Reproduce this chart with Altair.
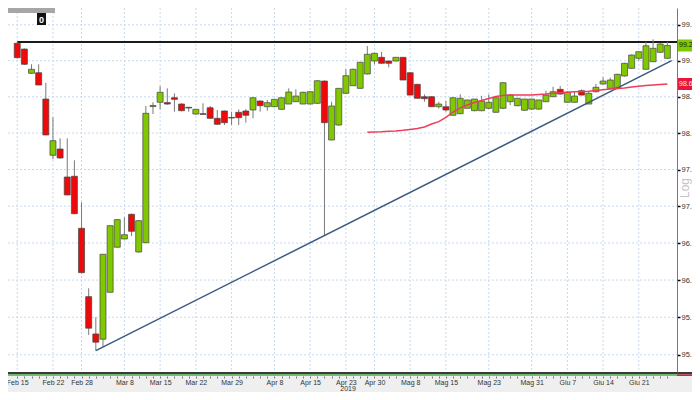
import altair as alt
import pandas as pd

# ---------------- data ----------------
idx = list(range(1, 93))
opens = [99.242, 99.162, 98.825, 98.833, 98.469, 97.695, 97.781, 97.398, 97.408, 96.700,
         95.777, 95.277, 95.207, 95.836, 96.443, 96.555, 96.890, 96.379, 96.505, 98.365,
         98.424, 98.420, 98.487, 98.400, 98.355, 98.262, 98.267, 98.349, 98.203, 98.304,
         98.215, 98.286, 98.304, 98.318, 98.442, 98.363, 98.363, 98.327, 98.400, 98.432,
         98.400, 98.400, 98.410, 98.718, 97.905, 98.111, 98.548, 98.653, 98.617, 98.815,
         98.996, 99.047, 98.996, 98.996, 99.047, 98.833, 98.672, 98.501, 98.501, 98.363,
         98.363, 98.245, 98.267, 98.341, 98.308, 98.308, 98.341, 98.286, 98.341, 98.432,
         98.377, 98.314, 98.330, 98.330, 98.432, 98.501, 98.603, 98.424, 98.424, 98.584,
         98.400, 98.570, 98.677, 98.617, 98.625, 98.788, 98.894, 99.033, 98.881, 98.986,
         99.117, 99.033]
highs = [99.260, 99.170, 98.950, 98.950, 98.695, 98.217, 97.928, 97.928, 97.627, 97.053,
         95.890, 95.501, 96.350, 96.740, 96.820, 96.850, 96.900, 96.810, 98.373, 98.424,
         98.649, 98.617, 98.548, 98.410, 98.358, 98.330, 98.410, 98.373, 98.318, 98.310,
         98.294, 98.327, 98.330, 98.490, 98.450, 98.456, 98.470, 98.490, 98.617, 98.603,
         98.570, 98.575, 98.730, 98.725, 98.432, 98.620, 98.881, 98.890, 98.980, 99.204,
         99.110, 99.121, 99.000, 99.050, 99.050, 98.840, 98.680, 98.534, 98.510, 98.432,
         98.442, 98.490, 98.534, 98.460, 98.470, 98.514, 98.534, 98.490, 98.700, 98.530,
         98.480, 98.470, 98.470, 98.460, 98.584, 98.639, 98.649, 98.580, 98.570, 98.603,
         98.580, 98.677, 98.770, 98.765, 98.820, 98.970, 99.085, 99.130, 99.264, 99.297,
         99.250, 99.264]
lows = [99.030, 98.940, 98.820, 98.660, 97.970, 97.640, 97.650, 97.150, 96.890, 96.090,
        95.264, 95.054, 95.108, 95.830, 96.440, 96.550, 96.595, 96.370, 96.500, 98.262,
        98.327, 98.390, 98.294, 98.300, 98.294, 98.250, 98.255, 98.200, 98.111, 98.111,
        98.111, 98.111, 98.143, 98.203, 98.294, 98.308, 98.360, 98.320, 98.400, 98.430,
        98.400, 98.400, 98.400, 96.602, 97.900, 98.100, 98.540, 98.650, 98.610, 98.810,
        98.950, 98.960, 98.908, 98.990, 98.730, 98.520, 98.475, 98.432, 98.360, 98.338,
        98.294, 98.240, 98.260, 98.340, 98.300, 98.300, 98.330, 98.280, 98.330, 98.386,
        98.370, 98.310, 98.320, 98.320, 98.430, 98.500, 98.530, 98.420, 98.420, 98.520,
        98.400, 98.560, 98.670, 98.610, 98.620, 98.780, 98.890, 99.000, 98.880, 98.980,
        99.110, 99.030]
closes = [99.042, 98.950, 98.881, 98.663, 97.974, 97.895, 97.658, 97.153, 96.898, 96.100,
          95.354, 95.167, 96.348, 96.735, 96.817, 96.613, 96.659, 96.803, 98.272, 98.380,
          98.562, 98.400, 98.465, 98.308, 98.345, 98.327, 98.257, 98.203, 98.121, 98.143,
          98.207, 98.212, 98.245, 98.487, 98.377, 98.419, 98.465, 98.487, 98.566, 98.510,
          98.562, 98.570, 98.722, 98.143, 98.373, 98.617, 98.792, 98.881, 98.978, 99.089,
          99.103, 98.964, 98.964, 99.047, 98.732, 98.524, 98.479, 98.474, 98.363, 98.400,
          98.318, 98.487, 98.479, 98.456, 98.469, 98.442, 98.424, 98.487, 98.695, 98.524,
          98.479, 98.469, 98.469, 98.456, 98.524, 98.570, 98.538, 98.562, 98.510, 98.524,
          98.548, 98.631, 98.718, 98.732, 98.811, 98.964, 99.079, 99.125, 99.208, 99.172,
          99.232, 99.212]

ma_idx = list(range(50, 93))
ma_values = [98.011, 98.015, 98.018, 98.025, 98.029, 98.038, 98.050, 98.063, 98.084, 98.125,
             98.157, 98.217, 98.290, 98.348, 98.387, 98.421, 98.449, 98.476, 98.504, 98.518,
             98.525, 98.525, 98.525, 98.525, 98.532, 98.538, 98.548, 98.557, 98.562, 98.569,
             98.573, 98.577, 98.587, 98.597, 98.608, 98.615, 98.622, 98.636, 98.647, 98.656,
             98.662, 98.670, 98.676]

tick_idx = [1, 6, 10, 16, 21, 26, 31, 37, 42, 47, 51, 56, 61, 67, 73, 78, 83, 88]
tick_labels = ["Feb 15", "Feb 22", "Feb 28", "Mar 8", "Mar 15", "Mar 22", "Mar 29",
               "Apr 8", "Apr 15", "Apr 23", "Apr 30", "Mag 8", "Mag 15", "Mag 23",
               "Mag 31", "Giu 7", "Giu 14", "Giu 21"]
year_label = "2019"
year_idx = 47.3
y_ticks = [95.0, 95.5, 96.0, 96.5, 97.0, 97.5, 98.0, 98.5, 99.0, 99.5]

resistance_level = [99.26]
resistance_start = [1]
trend_idx = [12, 92.6]
trend_price = [95.054, 99.0]
badge_price = [99.2120, 98.6762]
badge_text = ["99.2120", "98.6762"]

# ---------------- layout / style ----------------
W, H = 669, 364
PAD_R, PAD_B = 15, 20
X_DOMAIN = [0.407, 92.647]
Y_DOMAIN = [94.770, 99.7345]
GREEN = "#80c800"
RED = "#ee0a0a"
GRID = "#c6daef"
FONT = "Liberation Sans Narrow, Liberation Sans, Arial, sans-serif"

candles = pd.DataFrame({"idx": idx, "open": opens, "high": highs, "low": lows, "close": closes})
ma_df = pd.DataFrame({"idx": ma_idx, "ma": ma_values})
vgrid_df = pd.DataFrame({"t": tick_idx})
hgrid_df = pd.DataFrame({"p": y_ticks})
res_df = pd.DataFrame({"start": resistance_start, "level": resistance_level})
trend_df = pd.DataFrame({"idx": trend_idx, "price": trend_price})
badge_df = pd.DataFrame({"price": badge_price, "text": badge_text,
                         "fill": [GREEN, "#e8163c"], "tc": ["#1a1a1a", "#ffe6e6"]})
one = pd.DataFrame({"a": [0]})

label_expr = ("indexof({pos}, datum.value) >= 0 ? {lab}[indexof({pos}, datum.value)] : ''"
              .format(pos=str(tick_idx), lab=str(tick_labels)))

xs = alt.Scale(domain=X_DOMAIN, nice=False, zero=False)
ys = alt.Scale(type="log", domain=Y_DOMAIN, nice=False, zero=False)

x_axis = alt.Axis(values=idx, labelExpr=label_expr, tickSize=2, tickColor="#777",
                  tickWidth=1, domain=False, grid=False, labelFontSize=7,
                  labelColor="#333", labelFont=FONT, labelPadding=0, offset=4,
                  title=None, labelOverlap=False, labelFlush=False, labelAngle=0,
                  zindex=1)
y_axis = alt.Axis(orient="right", values=y_ticks, format=".4f", grid=False,
                  tickSize=3, tickColor="#000", tickWidth=1.5, domain=True,
                  domainColor="#777", labelFontSize=7.5, labelColor="#333",
                  labelFont=FONT, labelPadding=1, title=None, zindex=1)


def X(f):
    return alt.X(f, type="quantitative", scale=xs, axis=x_axis)


def Y(f):
    return alt.Y(f, type="quantitative", scale=ys, axis=y_axis)


bottom_bg = alt.Chart(one).mark_rect(color="#efefef").encode(
    x=alt.value(0), x2=alt.value(W + PAD_R), y=alt.value(H), y2=alt.value(H + PAD_B))
nav_dark = alt.Chart(one).mark_rect(color="#3a3a3a").encode(
    x=alt.value(0), x2=alt.value(W + PAD_R), y=alt.value(H), y2=alt.value(H + 2.5))
nav_green = alt.Chart(one).mark_rect(color="#4cd94c").encode(
    x=alt.value(0), x2=alt.value(W), y=alt.value(H + 2.5), y2=alt.value(H + 4))
nav_red = alt.Chart(one).mark_rect(color="#e8163c").encode(
    x=alt.value(W), x2=alt.value(W + PAD_R), y=alt.value(H + 2.5), y2=alt.value(H + 4))

vgrid = alt.Chart(vgrid_df).mark_rule(color=GRID, strokeDash=[2, 2], strokeWidth=1).encode(
    x=X("t"), y=alt.value(0), y2=alt.value(H))
hgrid = alt.Chart(hgrid_df).mark_rule(color=GRID, strokeDash=[2, 2], strokeWidth=1).encode(
    y=Y("p"), x=alt.value(0), x2=alt.value(W))

resistance = alt.Chart(res_df).mark_rule(color="#1a1a1a", strokeWidth=2).encode(
    x=X("start"), x2=alt.value(W), y=Y("level"))

wicks = alt.Chart(candles).mark_rule(color="#7a7a7a", strokeWidth=1).encode(
    x=X("idx"), y=Y("low"), y2="high")
bodies = alt.Chart(candles).mark_bar(size=6, stroke="#444", strokeWidth=0.7).encode(
    x=X("idx"), y=Y("open"), y2="close",
    color=alt.condition("datum.close >= datum.open", alt.value(GREEN), alt.value(RED)))

trend = alt.Chart(trend_df).mark_line(color="#3a5a82", strokeWidth=1.5).encode(
    x=X("idx"), y=Y("price"))
ma_line = alt.Chart(ma_df).mark_line(color="#f03c5a", strokeWidth=1.5).encode(
    x=X("idx"), y=Y("ma"))

badge_box = alt.Chart(badge_df).mark_rule(strokeWidth=12, strokeCap="butt").encode(
    x=alt.value(W + 1), x2=alt.value(W + 40), y=Y("price"),
    color=alt.Color("fill:N", scale=None))
badge_txt = alt.Chart(badge_df).mark_text(align="left", baseline="middle", fontSize=7,
                                          font=FONT).encode(
    x=alt.value(W + 2), y=Y("price"), text="text:N",
    color=alt.Color("tc:N", scale=None))

log_txt = alt.Chart(one).mark_text(text="Log", angle=270, fontSize=12, color="#c4c4c4",
                                   baseline="middle", align="center", font=FONT).encode(
    x=alt.value(W + 8), y=alt.value(180))
year_txt = alt.Chart(pd.DataFrame({"i": [year_idx], "t": [year_label]})).mark_text(
    baseline="bottom", align="center", fontSize=7, color="#333", font=FONT).encode(
    x=X("i"), y=alt.value(H + PAD_B), text="t:N")

toolbar = alt.Chart(one).mark_rect(color="#a6a6a6").encode(
    x=alt.value(0), x2=alt.value(47), y=alt.value(0), y2=alt.value(5))
zero_box = alt.Chart(one).mark_rect(color="#111").encode(
    x=alt.value(29), x2=alt.value(38), y=alt.value(5), y2=alt.value(17))
zero_txt = alt.Chart(one).mark_text(text="0", color="white", fontSize=9, fontWeight="bold",
                                    align="center", baseline="middle").encode(
    x=alt.value(33.5), y=alt.value(11.5))

chart = alt.layer(
    bottom_bg, nav_dark, nav_green, nav_red, vgrid, hgrid, resistance, wicks, bodies,
    trend, ma_line, badge_box, badge_txt, log_txt, year_txt, toolbar, zero_box, zero_txt
).properties(
    width=W, height=H,
    padding={"left": 0, "top": 0, "right": PAD_R, "bottom": PAD_B},
    autosize=alt.AutoSizeParams(type="none"),
    background="white",
).configure_view(stroke=None)

chart.save("out.html", embed_options={"renderer": "svg", "actions": False})
